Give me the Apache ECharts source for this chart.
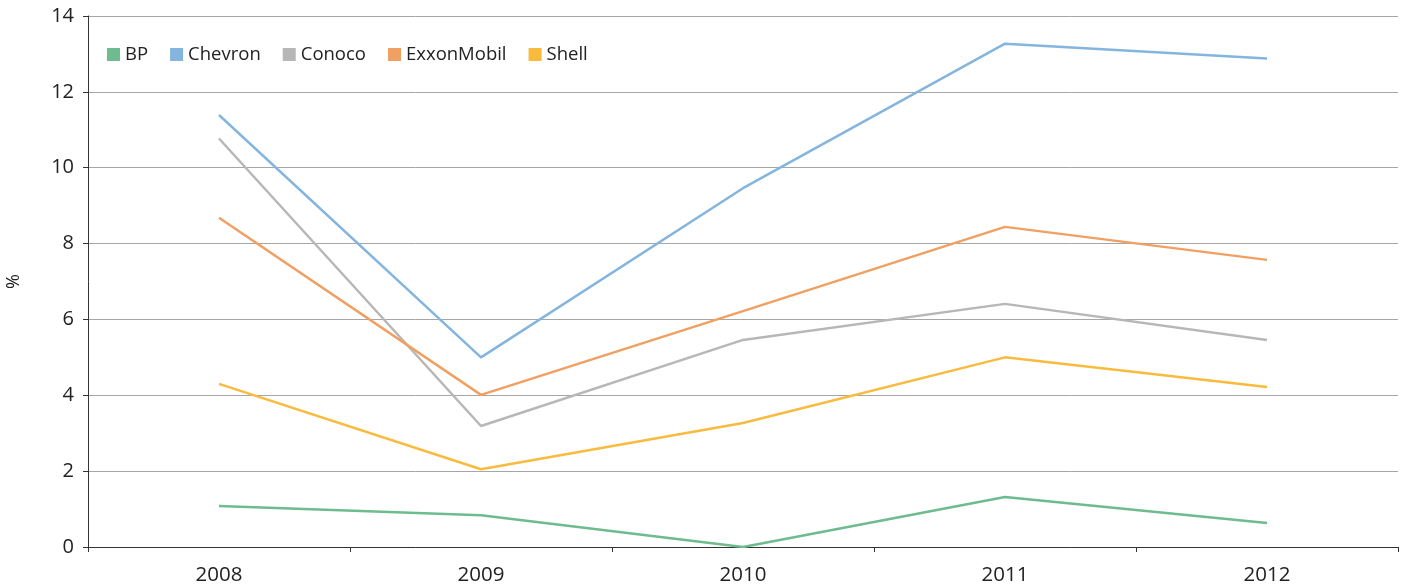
<!DOCTYPE html>
<html>
<head>
<meta charset="utf-8">
<script src="https://cdn.jsdelivr.net/npm/echarts@6/dist/echarts.min.js"></script>
<style>
  html, body { margin: 0; padding: 0; background: #fff; }
  #chart { width: 1407px; height: 586px; }
</style>
</head>
<body>
<div id="chart"></div>
<script>
// years on the x axis
var years = ['2008', '2009', '2010', '2011', '2012'];
// values in %
var bp = [1.08, 0.84, 0.0, 1.32, 0.63];
var chevron = [11.39, 5.0, 9.46, 13.27, 12.88];
var conoco = [10.77, 3.19, 5.46, 6.41, 5.46];
var exxon = [8.68, 4.01, 6.22, 8.44, 7.57];
var shell = [4.3, 2.05, 3.27, 5.0, 4.22];

var names = ['BP', 'Chevron', 'Conoco', 'ExxonMobil', 'Shell'];
var colors = ['#6dbb8f', '#84b5de', '#b7b7b7', '#f0a062', '#f8bb3e'];
var FONT = '"Open Sans", "Noto Sans", sans-serif';

var chart = echarts.init(document.getElementById('chart'));

function line(name, data) {
  return {
    name: name,
    type: 'line',
    data: data,
    symbol: 'none',
    lineStyle: { width: 2.5 }
  };
}

var option = {
  color: colors,
  animation: false,
  textStyle: { fontFamily: FONT },
  legend: {
    left: 102,
    top: 40,
    itemWidth: 13,
    itemHeight: 13,
    itemGap: 22,
    icon: 'rect',
    textStyle: { fontSize: 18.5, color: '#222', fontFamily: FONT },
    data: names
  },
  grid: { left: 88, right: 9, top: 16, bottom: 39, containLabel: false, outerBoundsMode: 'none' },
  xAxis: {
    type: 'category',
    data: years,
    boundaryGap: true,
    axisLine: { lineStyle: { color: '#333', width: 1 } },
    axisTick: { show: true, length: 5, lineStyle: { color: '#333' } },
    axisLabel: { fontSize: 20.5, color: '#222', margin: 18 }
  },
  yAxis: {
    type: 'value',
    min: 0,
    max: 14,
    interval: 2,
    name: '%',
    nameLocation: 'middle',
    nameGap: 65,
    nameRotate: 90,
    nameTextStyle: { fontSize: 18, color: '#222' },
    axisLine: { show: true, lineStyle: { color: '#333' } },
    axisTick: { show: true, length: 5, lineStyle: { color: '#333' } },
    axisLabel: { fontSize: 20, color: '#222', margin: 14 },
    splitLine: { lineStyle: { color: '#a6a6a6', width: 1 } }
  },
  series: [
    line('BP', bp),
    line('Chevron', chevron),
    line('Conoco', conoco),
    line('ExxonMobil', exxon),
    line('Shell', shell)
  ]
};

chart.setOption(option);
</script>
</body>
</html>
